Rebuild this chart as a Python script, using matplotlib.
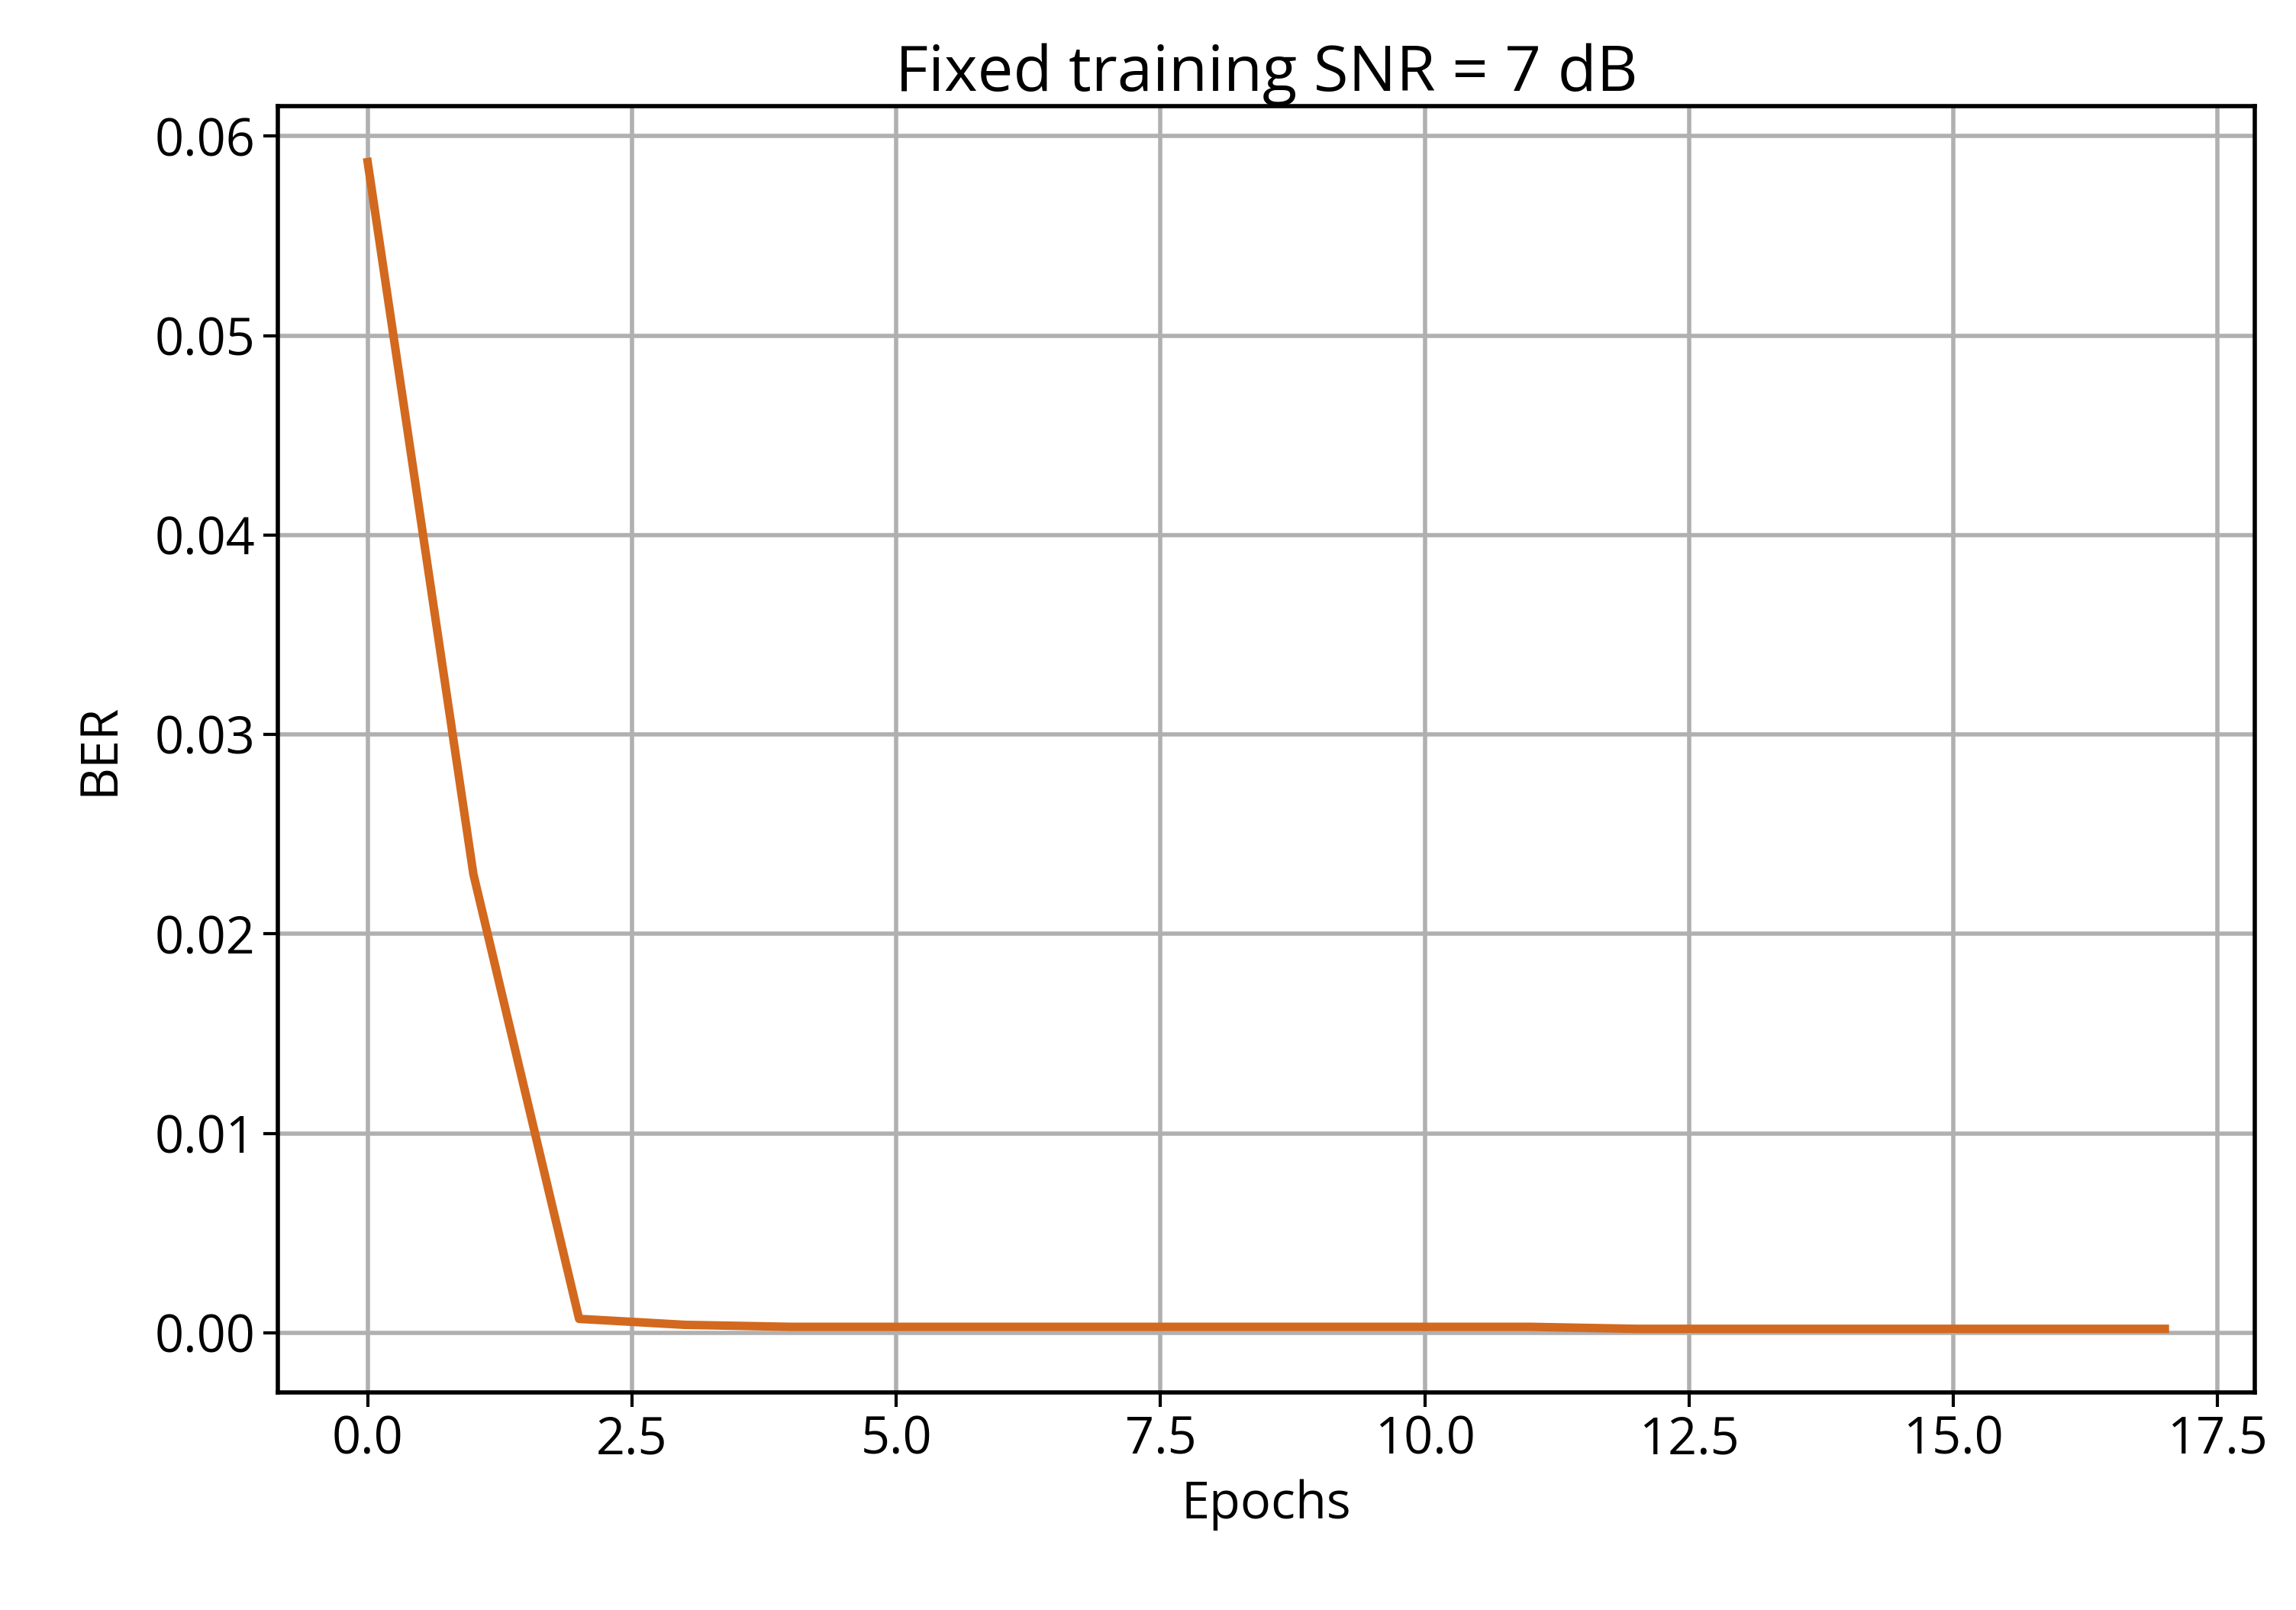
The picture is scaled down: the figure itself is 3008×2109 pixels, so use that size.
import matplotlib
matplotlib.use("Agg")
import matplotlib.pyplot as plt

epochs = list(range(18))
ber = [0.0587, 0.023, 0.0007, 0.0004, 0.0003, 0.0003, 0.0003, 0.0003, 0.0003,
       0.0003, 0.0003, 0.0003, 0.0002, 0.0002, 0.0002, 0.0002, 0.0002, 0.0002]
xticks = [0.0, 2.5, 5.0, 7.5, 10.0, 12.5, 15.0, 17.5]
yticks = [0.00, 0.01, 0.02, 0.03, 0.04, 0.05, 0.06]

plt.rcParams['font.family'] = ['Open Sans', 'DejaVu Sans']
fig = plt.figure(figsize=(15.04, 10.545), dpi=200)
ax = fig.add_axes([0.121, 0.135, 0.861, 0.799])
ax.plot(epochs, ber, color='#d2691e', lw=4)
ax.set_xlim(-0.85, 17.85)
ax.set_ylim(-0.003, 0.0615)
ax.set_xticks(xticks)
ax.set_xticklabels([f"{t:.1f}" for t in xticks])
ax.set_yticks(yticks)
ax.set_yticklabels([f"{t:.2f}" for t in yticks])
ax.grid(True, color='#b0b0b0', lw=2)
ax.tick_params(labelsize=24, width=1.5, length=7)
for s in ax.spines.values():
    s.set_linewidth(2)
ax.set_xlabel("Epochs", fontsize=24, labelpad=6)
ax.set_ylabel("BER", fontsize=24, labelpad=14)
ax.set_title("Fixed training SNR = 7 dB", fontsize=30, pad=4)
fig.savefig("out.png", dpi=200)
